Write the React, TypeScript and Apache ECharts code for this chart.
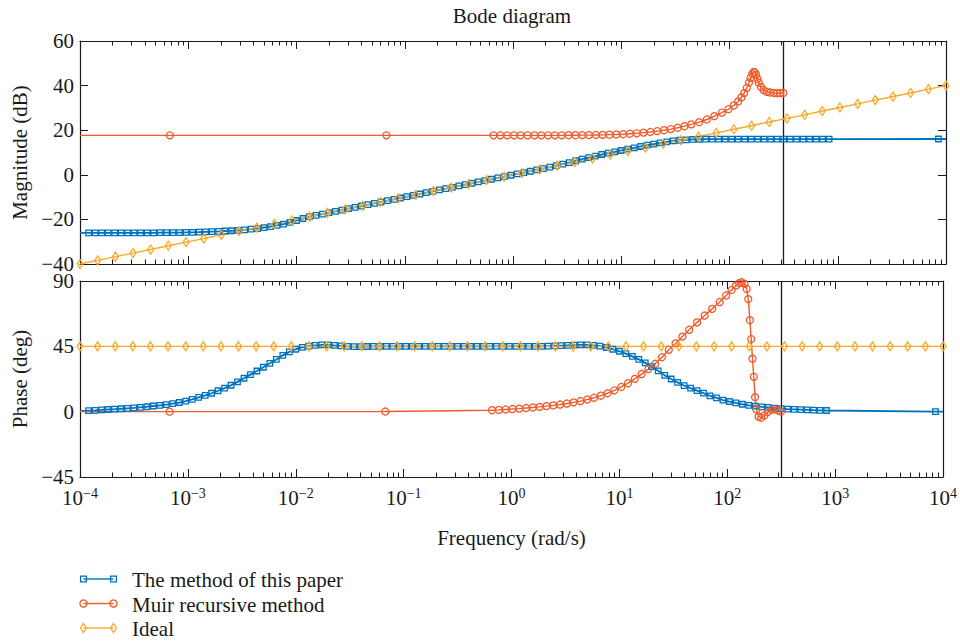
import { useEffect, useRef } from 'react';
import * as echarts from 'echarts';

const FONT = "'Liberation Serif', 'Times New Roman', Times, serif";
const INK = '#1a1a1a';
const BLUE = '#0072BD';
const ORANGE = '#EF5B2B';
const YELLOW = '#F7A928';

const titleText = 'Bode diagram';
const seriesNames = ['The method of this paper', 'Muir recursive method', 'Ideal'];
const xName = 'Frequency (rad/s)';
const magName = 'Magnitude (dB)';
const phaseName = 'Phase (deg)';

// axis ranges (frequency given as log10 exponent)
const freqExpMin = -4;
const freqExpMax = 4;
const magMin = -40;
const magMax = 60;
const magStep = 20;
const phaseMin = -45;
const phaseMax = 90;
const phaseStep = 45;
const nyquistExp = 2.497;

// The method of this paper
const blueExp = [-4.00, -3.92, -3.86, -3.80, -3.74, -3.68, -3.62, -3.56, -3.50, -3.44, -3.38, -3.32, -3.26, -3.20, -3.14, -3.08, -3.02, -2.96, -2.90, -2.84, -2.78, -2.72, -2.66, -2.60, -2.54, -2.48, -2.42, -2.36, -2.30, -2.24, -2.18, -2.12, -2.06, -2.00, -1.94, -1.88, -1.82, -1.76, -1.70, -1.64, -1.58, -1.52, -1.46, -1.40, -1.34, -1.28, -1.22, -1.16, -1.10, -1.04, -0.98, -0.92, -0.86, -0.80, -0.74, -0.68, -0.62, -0.56, -0.50, -0.44, -0.38, -0.32, -0.26, -0.20, -0.14, -0.08, -0.02, 0.04, 0.10, 0.16, 0.22, 0.28, 0.34, 0.40, 0.46, 0.52, 0.58, 0.64, 0.70, 0.76, 0.82, 0.88, 0.94, 1.00, 1.06, 1.12, 1.18, 1.24, 1.30, 1.36, 1.42, 1.48, 1.54, 1.60, 1.66, 1.72, 1.78, 1.84, 1.90, 1.96, 2.02, 2.08, 2.14, 2.20, 2.26, 2.32, 2.38, 2.44, 2.50, 2.56, 2.62, 2.68, 2.74, 2.80, 2.86, 2.92, 3.93, 4.00];
const blueMag = [-26.0,
  -26.0, -26.0, -26.0, -26.0, -26.0, -26.0, -26.0, -26.0, -26.0, -26.0,
  -26.0, -25.9, -25.9, -25.9, -25.9, -25.8, -25.8, -25.7, -25.6, -25.5,
  -25.4, -25.2, -25.1, -24.9, -24.7, -24.4, -24.1, -23.7, -23.2, -22.7,
  -22.1, -21.3, -20.5, -19.6, -18.8, -18.2, -17.6, -17.0, -16.4, -15.8,
  -15.2, -14.6, -14.0, -13.4, -12.8, -12.2, -11.6, -11.0, -10.4, -9.8,
  -9.2, -8.6, -8.0, -7.4, -6.8, -6.2, -5.6, -5.0, -4.4, -3.8,
  -3.2, -2.6, -2.0, -1.4, -0.8, -0.2, 0.4, 1.0, 1.6, 2.2,
  2.8, 3.4, 4.1, 4.8, 5.5, 6.3, 7.0, 7.7, 8.4, 9.1,
  9.7, 10.3, 10.9, 11.5, 12.1, 12.7, 13.3, 13.8, 14.3, 14.8,
  15.2, 15.5, 15.7, 15.85, 15.95, 16.0, 16.0, 16.0, 16.0, 16.0,
  16.0, 16.0, 16.0, 16.0, 16.0, 16.0, 16.0, 16.0, 16.0, 16.0,
  16.0, 16.0, 16.0, 16.0, 16.0,
  16.05, 16.05];
const bluePhase = [0.4,
  0.7, 0.9, 1.2, 1.5, 1.7, 2.0, 2.3, 2.6, 3.0, 3.4,
  3.9, 4.4, 4.9, 5.5, 6.3, 7.2, 8.4, 9.8, 11.2, 12.7,
  14.4, 16.2, 18.2, 20.5, 23.0, 25.5, 28.0, 30.6, 33.3, 36.0,
  38.8, 41.2, 43.0, 44.3, 45.1, 45.7, 46.0, 46.0, 45.6, 45.3,
  45.0, 44.8, 44.8, 44.9, 45.0, 45.0, 45.0, 45.0, 45.0, 45.0,
  45.0, 45.0, 45.0, 45.0, 45.0, 45.0, 45.0, 45.0, 45.0, 45.0,
  45.0, 45.0, 45.0, 45.0, 45.0, 45.0, 45.0, 45.0, 45.0, 45.0,
  45.0, 45.1, 45.3, 45.5, 45.7, 45.9, 46.0, 46.0, 45.7, 45.1,
  44.2, 43.0, 41.6, 40.0, 38.1, 36.0, 33.6, 31.0, 28.1, 25.0,
  22.5, 20.2, 18.0, 16.2, 14.5, 12.8, 10.9, 9.5, 8.0, 7.0,
  6.0, 5.1, 4.4, 3.8, 3.3, 2.9, 2.5, 2.1, 1.8, 1.6,
  1.4, 1.2, 1.0, 0.9, 0.8,
  0.0, 0.0];
const blueNoMarker = [0, 117];

// Muir recursive method
const orangeExp = [-4.00, -3.17, -1.17, -0.180, -0.117, -0.054, 0.009, 0.072, 0.135, 0.198, 0.261, 0.324, 0.387, 0.450, 0.513, 0.576, 0.639, 0.702, 0.765, 0.828, 0.891, 0.954, 1.017, 1.080, 1.143, 1.206, 1.269, 1.332, 1.395, 1.458, 1.521, 1.584, 1.647, 1.720, 1.790, 1.860, 1.930, 1.990, 2.040, 2.080, 2.110, 2.135, 2.160, 2.180, 2.195, 2.210, 2.222, 2.234, 2.246, 2.258, 2.270, 2.290, 2.315, 2.345, 2.375, 2.410, 2.440, 2.470, 2.497];
const orangeMag = [17.7, 17.7, 17.7, 17.7, 17.7, 17.7, 17.7, 17.7, 17.7, 17.7, 17.7, 17.7, 17.7, 17.7, 17.75, 17.75, 17.8, 17.8, 17.85, 17.9, 18.0, 18.1, 18.2, 18.4, 18.6, 18.9, 19.2, 19.6, 20.0, 20.5, 21.1, 21.8, 22.6, 23.6, 24.8, 26.3, 27.9, 29.4, 31.1, 32.9, 34.7, 36.6, 39.0, 41.4, 43.5, 45.2, 46.1, 46.0, 44.8, 43.0, 41.3, 39.4, 38.0, 37.2, 36.9, 36.7, 36.6, 36.6, 36.7];
const orangePhase = [0.0, 0.0, 0.1, 1.0, 1.2, 1.5, 1.8, 2.1, 2.5, 2.9, 3.3, 3.8, 4.3, 4.9, 5.6, 6.4, 7.3, 8.4, 9.6, 11.0, 12.7, 14.7, 17.0, 19.6, 22.6, 25.9, 29.3, 33.0, 37.5, 42.6, 47.0, 51.7, 56.4, 61.5, 66.2, 70.8, 75.5, 80.0, 83.8, 86.8, 88.5, 89.1, 88.0, 84.5, 77.5, 63.0, 50.0, 36.5, 24.0, 10.0, 1.5, -3.4, -4.2, -2.5, -0.3, 1.3, 1.6, 0.9, 0.0];
const orangeNoMarker = [0];

// Ideal
const idealExp = [-4.000, -3.837, -3.673, -3.510, -3.347, -3.184, -3.020, -2.857, -2.694, -2.531, -2.367, -2.204, -2.041, -1.878, -1.714, -1.551, -1.388, -1.224, -1.061, -0.898, -0.735, -0.571, -0.408, -0.245, -0.082, 0.082, 0.245, 0.408, 0.571, 0.735, 0.898, 1.061, 1.224, 1.388, 1.551, 1.714, 1.878, 2.041, 2.204, 2.367, 2.531, 2.694, 2.857, 3.020, 3.184, 3.347, 3.510, 3.673, 3.837, 4.000];
const idealMag = [-40.0, -38.4, -36.7, -35.1, -33.5, -31.8, -30.2, -28.6, -26.9, -25.3, -23.7, -22.0, -20.4, -18.8, -17.1, -15.5, -13.9, -12.2, -10.6, -9.0, -7.3, -5.7, -4.1, -2.4, -0.8, 0.8, 2.4, 4.1, 5.7, 7.3, 9.0, 10.6, 12.2, 13.9, 15.5, 17.1, 18.8, 20.4, 22.0, 23.7, 25.3, 26.9, 28.6, 30.2, 31.8, 33.5, 35.1, 36.7, 38.4, 40.0];
const idealPhase = [45, 45, 45, 45, 45, 45, 45, 45, 45, 45, 45, 45, 45, 45, 45, 45, 45, 45, 45, 45, 45, 45, 45, 45, 45, 45, 45, 45, 45, 45, 45, 45, 45, 45, 45, 45, 45, 45, 45, 45, 45, 45, 45, 45, 45, 45, 45, 45, 45, 45];

function toPoints(xs: number[], ys: number[], hidden: number[] = []) {
  return xs.map((x, i) =>
    hidden.includes(i) ? { value: [x, ys[i]], symbol: 'none' } : { value: [x, ys[i]] }
  );
}

const minus = (v: number) => (v < 0 ? '\u2212' + Math.abs(v) : String(v));

function buildXAxes(gridIndex: number, withLabels: boolean) {
  const minor: number[] = [];
  for (let n = freqExpMin; n < freqExpMax; n++) {
    for (let k = 2; k <= 9; k++) minor.push(n + Math.log10(k));
  }
  const base = {
    type: 'value',
    gridIndex,
    min: freqExpMin,
    max: freqExpMax,
    interval: 1,
    splitLine: { show: false },
    axisLine: { show: true, onZero: false, lineStyle: { color: INK, width: 1.2 } },
  };
  const hiddenLine = { show: false, onZero: false };
  const majorTick = { show: true, inside: true, length: 8, lineStyle: { color: INK, width: 1 } };
  const minorTick = { show: true, inside: true, length: 4.5, lineStyle: { color: INK, width: 1 }, customValues: minor };
  return [
    {
      ...base,
      position: 'bottom',
      axisTick: majorTick,
      axisLabel: withLabels
        ? {
            show: true,
            margin: 9,
            formatter: (v: number) => `{b|10}{s|${minus(v)}}`,
            rich: {
              b: { fontFamily: FONT, fontSize: 21, color: INK, lineHeight: 24 },
              s: { fontFamily: FONT, fontSize: 14, color: INK, verticalAlign: 'top', lineHeight: 14 },
            },
          }
        : { show: false },
      name: withLabels ? xName : '',
      nameLocation: 'middle',
      nameGap: 50,
      nameTextStyle: { fontFamily: FONT, fontSize: 21, color: INK },
    },
    { ...base, position: 'bottom', axisLine: hiddenLine, axisTick: minorTick, axisLabel: { show: false } },
    { ...base, position: 'top', axisTick: majorTick, axisLabel: { show: false } },
    { ...base, position: 'top', axisLine: hiddenLine, axisTick: minorTick, axisLabel: { show: false } },
  ];
}

function buildYAxes(gridIndex: number, min: number, max: number, step: number, name: string) {
  const base = {
    type: 'value',
    gridIndex,
    min,
    max,
    interval: step,
    splitLine: { show: false },
    axisLine: { show: true, onZero: false, lineStyle: { color: INK, width: 1.2 } },
    axisTick: { show: true, inside: true, length: 8, lineStyle: { color: INK, width: 1 } },
  };
  return [
    {
      ...base,
      position: 'left',
      axisLabel: {
        show: true,
        margin: 6,
        fontFamily: FONT,
        fontSize: 21,
        color: INK,
        formatter: (v: number) => minus(v),
      },
      name,
      nameLocation: 'middle',
      nameGap: 44,
      nameTextStyle: { fontFamily: FONT, fontSize: 21, color: INK },
    },
    { ...base, position: 'right', axisLabel: { show: false } },
  ];
}

function lineSeries(
  name: string,
  xIdx: number,
  yIdx: number,
  data: any[],
  color: string,
  symbol: string,
  symbolSize: any,
  width: number,
  withNyquist: boolean
) {
  const s: any = {
    name,
    type: 'line',
    xAxisIndex: xIdx,
    yAxisIndex: yIdx,
    data,
    symbol,
    symbolSize,
    showAllSymbol: true,
    lineStyle: { color, width },
    itemStyle: { color: 'rgba(255,255,255,0)', borderColor: color, borderWidth: 1.3 },
    emphasis: { disabled: true },
    z: 2,
  };
  if (withNyquist) {
    s.markLine = {
      silent: true,
      symbol: ['none', 'none'],
      label: { show: false },
      lineStyle: { color: INK, width: 1.3, type: 'solid' },
      data: [{ xAxis: nyquistExp }],
      z: 1,
    };
  }
  return s;
}

function legendGraphic() {
  const rows = [
    { y: 579, color: BLUE, kind: 'rect', label: seriesNames[0] },
    { y: 603.5, color: ORANGE, kind: 'circle', label: seriesNames[1] },
    { y: 628, color: YELLOW, kind: 'diamond', label: seriesNames[2] },
  ];
  const x1 = 83.5;
  const x2 = 113.5;
  const els: any[] = [];
  rows.forEach((r) => {
    els.push({
      type: 'line',
      shape: { x1, y1: r.y, x2, y2: r.y },
      style: { stroke: r.color, lineWidth: 1.4 },
    });
    [x1, x2].forEach((cx) => {
      if (r.kind === 'rect') {
        els.push({
          type: 'rect',
          shape: { x: cx - 2.9, y: r.y - 2.9, width: 5.8, height: 5.8 },
          style: { fill: 'rgba(255,255,255,0)', stroke: r.color, lineWidth: 1.3 },
        });
      } else if (r.kind === 'circle') {
        els.push({
          type: 'circle',
          shape: { cx, cy: r.y, r: 3.6 },
          style: { fill: 'rgba(255,255,255,0)', stroke: r.color, lineWidth: 1.3 },
        });
      } else {
        els.push({
          type: 'polygon',
          shape: { points: [[cx, r.y - 4.5], [cx + 3, r.y], [cx, r.y + 4.5], [cx - 3, r.y]] },
          style: { fill: 'rgba(255,255,255,0)', stroke: r.color, lineWidth: 1.3 },
        });
      }
    });
    els.push({
      type: 'text',
      x: 132,
      y: r.y + 1,
      style: {
        text: r.label,
        fontFamily: FONT,
        fontSize: 21,
        fill: INK,
        textAlign: 'left',
        textVerticalAlign: 'middle',
      },
    });
  });
  els.push({
    type: 'text',
    x: 512,
    y: 16,
    style: {
      text: titleText,
      fontFamily: FONT,
      fontSize: 21,
      fill: INK,
      textAlign: 'center',
      textVerticalAlign: 'middle',
    },
  });
  return els;
}

export default function App() {
  const ref = useRef<HTMLDivElement>(null);

  useEffect(() => {
    if (!ref.current) return;
    const chart = echarts.init(ref.current, null, { renderer: 'svg' });
    const option: any = {
      animation: false,
      backgroundColor: '#ffffff',
      grid: [
        { left: 80, right: 14, top: 41, height: 223, containLabel: false },
        { left: 80, right: 14, top: 281, height: 196, containLabel: false },
      ],
      xAxis: [...buildXAxes(0, false), ...buildXAxes(1, true)],
      yAxis: [
        ...buildYAxes(0, magMin, magMax, magStep, magName),
        ...buildYAxes(1, phaseMin, phaseMax, phaseStep, phaseName),
      ],
      series: [
        lineSeries(seriesNames[0], 0, 0, toPoints(blueExp, blueMag, blueNoMarker), BLUE, 'rect', 5.5, 1.8, false),
        lineSeries(seriesNames[1], 0, 0, toPoints(orangeExp, orangeMag, orangeNoMarker), ORANGE, 'circle', 7, 1.4, true),
        lineSeries(seriesNames[2], 0, 0, toPoints(idealExp, idealMag), YELLOW, 'diamond', [6, 9], 1.4, false),
        lineSeries(seriesNames[0], 4, 2, toPoints(blueExp, bluePhase, blueNoMarker), BLUE, 'rect', 5.5, 1.8, false),
        lineSeries(seriesNames[1], 4, 2, toPoints(orangeExp, orangePhase, orangeNoMarker), ORANGE, 'circle', 7, 1.4, true),
        lineSeries(seriesNames[2], 4, 2, toPoints(idealExp, idealPhase), YELLOW, 'diamond', [6, 9], 1.4, false),
      ],
      graphic: legendGraphic(),
    };
    chart.setOption(option);
    return () => chart.dispose();
  }, []);

  return (
    <div
      ref={ref}
      style={{ position: 'absolute', left: 0, top: 0, width: 960, height: 641, background: '#fff' }}
    />
  );
}
